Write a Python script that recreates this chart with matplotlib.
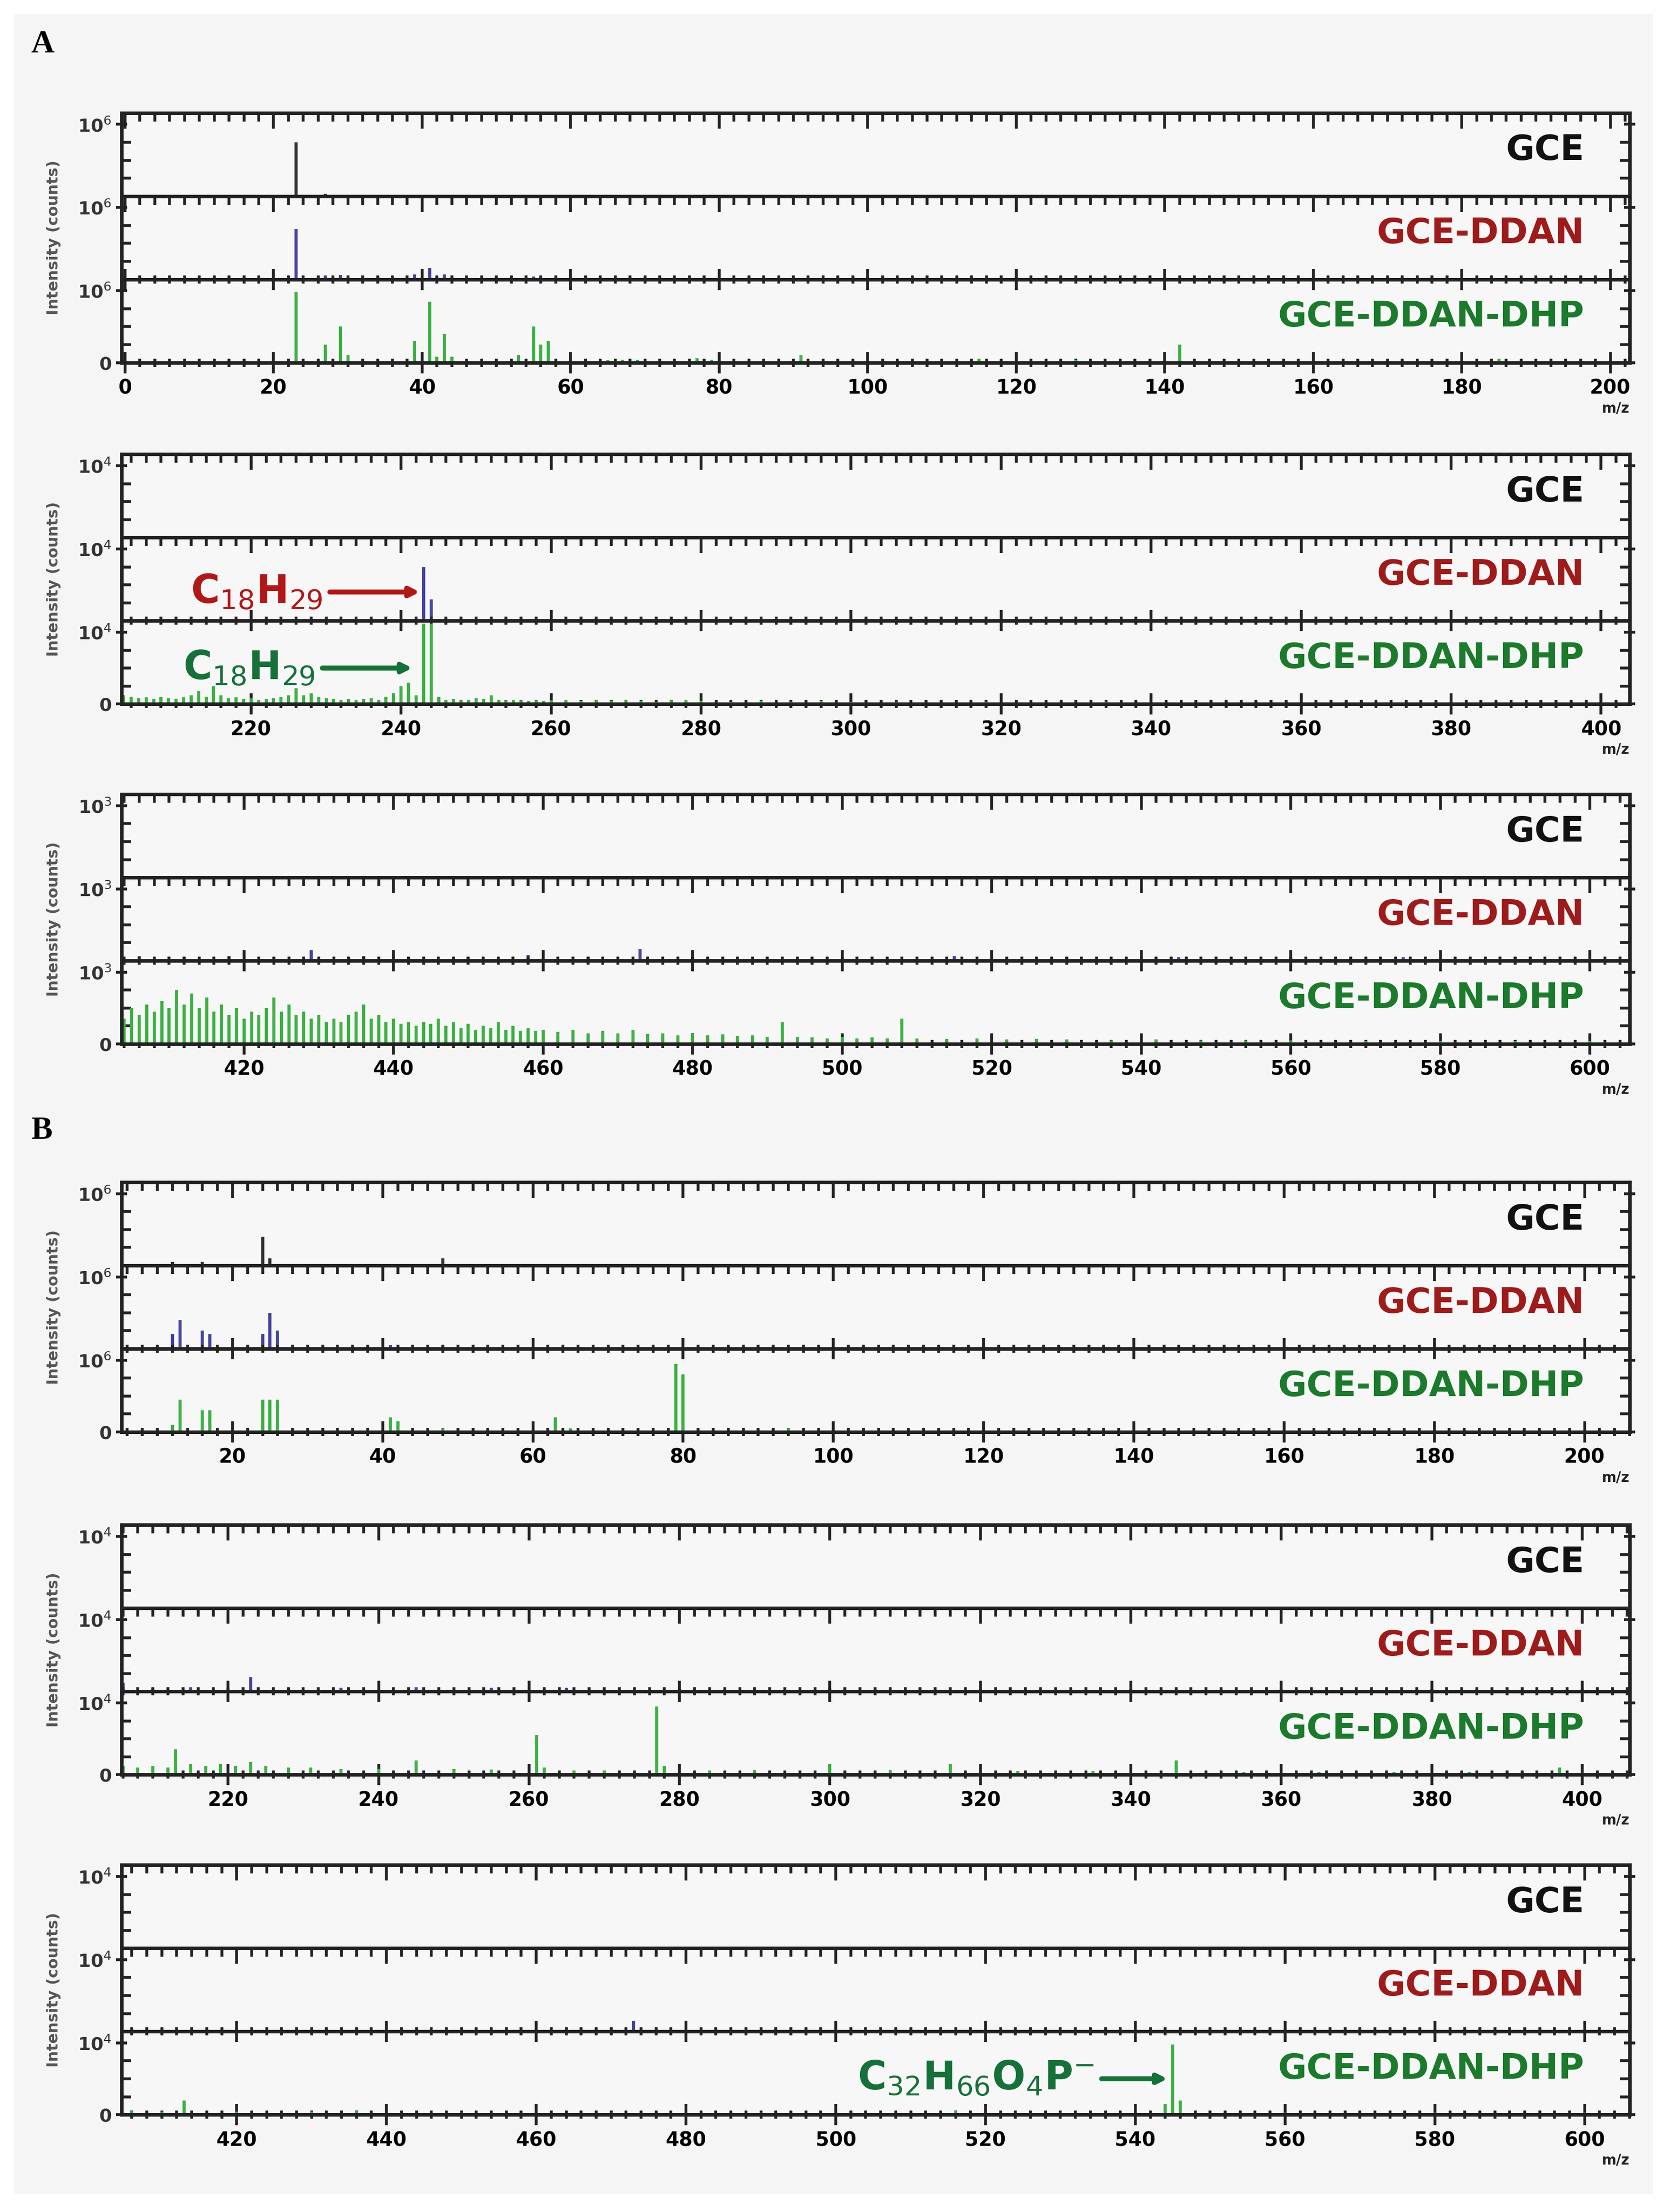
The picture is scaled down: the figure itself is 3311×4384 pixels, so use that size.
import matplotlib
matplotlib.use("Agg")
import matplotlib.pyplot as plt
import numpy as np
from matplotlib.patches import Rectangle

W, H = 1184, 1568  # reference layout units

# ---------------- data ----------------
labels = ["GCE", "GCE-DDAN", "GCE-DDAN-DHP"]
label_colors = ["#111111", "#9e1b1b", "#1c7a2c"]
line_colors = ["#333333", "#4444a0", "#3cb043"]
scale_labels = ["10$^6$", "10$^4$", "10$^3$", "10$^6$", "10$^4$", "10$^4$"]

# A1 (m/z 0-200)
A1_gce_mz = [23, 27]
A1_gce_I = [0.75, 0.03]
A1_ddan_mz = [23, 27, 29, 39, 41, 43, 55]
A1_ddan_I = [0.70, 0.05, 0.06, 0.07, 0.16, 0.07, 0.04]
A1_dhp_mz = [23, 27, 29, 30, 39, 41, 42, 43, 44, 53, 55, 56, 57, 65, 67, 69, 77, 79, 91, 115, 128, 142, 185]
A1_dhp_I = [0.98, 0.25, 0.50, 0.10, 0.30, 0.85, 0.08, 0.40, 0.08, 0.10, 0.50, 0.25, 0.30, 0.03, 0.04, 0.04, 0.06, 0.04, 0.10, 0.05, 0.04, 0.25, 0.05]

# A2 (m/z 200-400)
A2_gce_mz = [250, 300, 350]
A2_gce_I = [0.01, 0.01, 0.01]
A2_ddan_mz = [243, 244]
A2_ddan_I = [0.75, 0.30]
A2_dhp_mz = [203, 204, 205, 206, 207, 208, 209, 210, 211, 212, 213, 214, 215, 216, 217, 218, 219, 220, 221, 222,
             223, 224, 225, 226, 227, 228, 229, 230, 231, 232, 233, 234, 235, 236, 237, 238, 239, 240, 241, 242,
             243, 244, 245, 246, 247, 248, 249, 250, 251, 252, 253, 254, 255, 256, 257, 258, 259, 260, 262, 264,
             266, 268, 270, 272, 274, 276, 278, 280, 284, 288, 292, 296, 300, 306, 312, 318, 326, 334, 342, 350]
A2_dhp_I = [0.12, 0.10, 0.08, 0.09, 0.07, 0.10, 0.08, 0.07, 0.09, 0.12, 0.18, 0.10, 0.25, 0.12, 0.08, 0.09, 0.07, 0.08, 0.06, 0.07,
            0.08, 0.10, 0.12, 0.22, 0.12, 0.15, 0.10, 0.08, 0.07, 0.06, 0.07, 0.06, 0.07, 0.08, 0.06, 0.10, 0.15, 0.25, 0.30, 0.12,
            1.12, 1.12, 0.10, 0.06, 0.07, 0.05, 0.06, 0.08, 0.07, 0.12, 0.06, 0.05, 0.06, 0.05, 0.04, 0.05, 0.04, 0.05, 0.06, 0.04,
            0.05, 0.04, 0.05, 0.04, 0.03, 0.05, 0.06, 0.04, 0.03, 0.04, 0.03, 0.04, 0.03, 0.03, 0.02, 0.03, 0.02, 0.03, 0.02, 0.02]

# A3 (m/z 400-600)
A3_gce_mz = [450, 500, 550]
A3_gce_I = [0.01, 0.01, 0.01]
A3_ddan_mz = [406, 412, 418, 424, 429, 436, 442, 450, 458, 466, 473, 480, 490, 500, 515, 530, 545, 560, 575, 590]
A3_ddan_I = [0.06, 0.05, 0.06, 0.05, 0.15, 0.06, 0.05, 0.05, 0.08, 0.05, 0.16, 0.05, 0.05, 0.05, 0.06, 0.05, 0.05, 0.05, 0.05, 0.05]
A3_dhp_mz = [404, 405, 406, 407, 408, 409, 410, 411, 412, 413, 414, 415, 416, 417, 418, 419, 420, 421, 422, 423,
             424, 425, 426, 427, 428, 429, 430, 431, 432, 433, 434, 435, 436, 437, 438, 439, 440, 441, 442, 443,
             444, 445, 446, 447, 448, 449, 450, 451, 452, 453, 454, 455, 456, 457, 458, 459, 460, 462, 464, 466,
             468, 470, 472, 474, 476, 478, 480, 482, 484, 486, 488, 490, 492, 494, 496, 498, 500, 502, 504, 506,
             508, 510, 514, 518, 522, 526, 530, 536, 542, 548, 554, 560, 570, 580, 590, 600]
A3_dhp_I = [0.35, 0.50, 0.40, 0.55, 0.45, 0.60, 0.50, 0.75, 0.55, 0.70, 0.50, 0.65, 0.45, 0.55, 0.40, 0.50, 0.35, 0.45, 0.40, 0.50,
            0.65, 0.45, 0.55, 0.40, 0.45, 0.35, 0.40, 0.30, 0.35, 0.30, 0.40, 0.45, 0.55, 0.35, 0.40, 0.30, 0.35, 0.28, 0.30, 0.25,
            0.30, 0.28, 0.35, 0.25, 0.30, 0.22, 0.28, 0.20, 0.25, 0.22, 0.30, 0.20, 0.25, 0.18, 0.22, 0.18, 0.20, 0.17, 0.20, 0.15,
            0.18, 0.15, 0.20, 0.14, 0.15, 0.12, 0.14, 0.12, 0.13, 0.11, 0.12, 0.10, 0.30, 0.10, 0.09, 0.08, 0.10, 0.08, 0.09, 0.08,
            0.35, 0.08, 0.07, 0.08, 0.06, 0.07, 0.06, 0.05, 0.06, 0.05, 0.05, 0.05, 0.04, 0.04, 0.04, 0.04]

# B1 (m/z 5-205)
B1_gce_mz = [12, 16, 24, 25, 48]
B1_gce_I = [0.05, 0.05, 0.40, 0.10, 0.10]
B1_ddan_mz = [12, 13, 16, 17, 24, 25, 26, 41, 48]
B1_ddan_I = [0.20, 0.40, 0.25, 0.20, 0.20, 0.50, 0.25, 0.05, 0.05]
B1_dhp_mz = [12, 13, 16, 17, 24, 25, 26, 41, 42, 48, 63, 65, 79, 80, 94]
B1_dhp_I = [0.10, 0.45, 0.30, 0.30, 0.45, 0.45, 0.45, 0.20, 0.15, 0.05, 0.20, 0.05, 0.95, 0.80, 0.05]

# B2 (m/z 205-405)
B2_gce_mz = [250, 300, 350]
B2_gce_I = [0.01, 0.01, 0.01]
B2_ddan_mz = [206, 210, 215, 220, 223, 228, 235, 245, 255, 265, 280, 300, 320, 340, 360, 380, 400]
B2_ddan_I = [0.12, 0.05, 0.06, 0.05, 0.20, 0.05, 0.05, 0.06, 0.05, 0.05, 0.04, 0.05, 0.04, 0.04, 0.04, 0.04, 0.04]
B2_dhp_mz = [206, 208, 210, 212, 213, 215, 217, 219, 221, 223, 225, 228, 231, 235, 240, 245, 250, 255, 261, 262,
             266, 270, 277, 278, 284, 290, 300, 308, 316, 325, 335, 346, 355, 365, 375, 385, 397]
B2_dhp_I = [0.12, 0.10, 0.12, 0.10, 0.35, 0.15, 0.12, 0.15, 0.12, 0.18, 0.12, 0.10, 0.10, 0.08, 0.08, 0.20, 0.08, 0.07, 0.55, 0.10,
            0.06, 0.06, 0.95, 0.12, 0.06, 0.05, 0.15, 0.05, 0.15, 0.05, 0.05, 0.20, 0.04, 0.04, 0.04, 0.04, 0.10]

# B3 (m/z 405-605)
B3_gce_mz = [450, 500, 550]
B3_gce_I = [0.01, 0.01, 0.01]
B3_ddan_mz = [473]
B3_ddan_I = [0.15]
B3_dhp_mz = [406, 410, 413, 420, 430, 436, 450, 470, 490, 516, 530, 544, 545, 546, 560, 580, 600]
B3_dhp_I = [0.05, 0.04, 0.20, 0.04, 0.04, 0.05, 0.03, 0.03, 0.03, 0.05, 0.03, 0.15, 0.98, 0.20, 0.03, 0.03, 0.03]

groups = [
    dict(top=80, xlim=(-0.5, 202.6), major=np.arange(0, 201, 20), data=[(A1_gce_mz, A1_gce_I), (A1_ddan_mz, A1_ddan_I), (A1_dhp_mz, A1_dhp_I)]),
    dict(top=322, xlim=(202.7, 403.8), major=np.arange(220, 401, 20), data=[(A2_gce_mz, A2_gce_I), (A2_ddan_mz, A2_ddan_I), (A2_dhp_mz, A2_dhp_I)]),
    dict(top=563, xlim=(403.6, 605.3), major=np.arange(420, 601, 20), data=[(A3_gce_mz, A3_gce_I), (A3_ddan_mz, A3_ddan_I), (A3_dhp_mz, A3_dhp_I)]),
    dict(top=838, xlim=(5.2, 206.0), major=np.arange(20, 201, 20), data=[(B1_gce_mz, B1_gce_I), (B1_ddan_mz, B1_ddan_I), (B1_dhp_mz, B1_dhp_I)]),
    dict(top=1081, xlim=(205.8, 406.3), major=np.arange(220, 401, 20), data=[(B2_gce_mz, B2_gce_I), (B2_ddan_mz, B2_ddan_I), (B2_dhp_mz, B2_dhp_I)]),
    dict(top=1322, xlim=(404.6, 606.0), major=np.arange(420, 601, 20), data=[(B3_gce_mz, B3_gce_I), (B3_ddan_mz, B3_ddan_I), (B3_dhp_mz, B3_dhp_I)]),
]

fig = plt.figure(figsize=(33.12, 43.84), dpi=100)
fig.patch.set_facecolor("white")
fig.patches.append(Rectangle((10 / W, 1 - 1555 / H), 1162 / W, 1545 / H, transform=fig.transFigure,
                             facecolor="#f5f5f5", edgecolor="none", zorder=-10))

fig.text(22 / W, 1 - 32 / H, "A", fontsize=46, fontweight="bold", family="Liberation Serif", va="center")
fig.text(22 / W, 1 - 802 / H, "B", fontsize=46, fontweight="bold", family="Liberation Serif", va="center")

PH = 59
L, R = 86, 1155
YMAX = 1.16
axes_all = []
for gi, g in enumerate(groups):
    for k in range(3):
        y0 = g["top"] + k * PH
        ax = fig.add_axes([L / W, 1 - (y0 + PH) / H, (R - L) / W, PH / H])
        ax.set_facecolor("#f7f7f7")
        mz, I = g["data"][k]
        ax.vlines(mz, 0, I, color=line_colors[k], lw=4.5)
        for s in ax.spines.values():
            s.set_linewidth(5)
            s.set_color("#222222")
        ax.set_xticks(g["major"])
        ax.set_xticks(np.arange(g["major"][0] - 20, g["major"][-1] + 21, 2), minor=True)
        ax.set_xlim(*g["xlim"])
        ax.set_ylim(0, YMAX)
        ax.tick_params(axis="x", which="both", top=True, bottom=(k == 2), direction="in",
                       labelbottom=(k == 2), width=4, color="#222222")
        ax.tick_params(axis="x", which="major", length=22)
        ax.tick_params(axis="x", which="minor", length=12)
        if k == 2:
            ax.tick_params(axis="x", which="both", bottom=True, direction="inout")
            ax.tick_params(axis="x", which="major", length=30, labelsize=28, pad=8)
            for t in ax.get_xticklabels():
                t.set_fontweight("bold")
            ax.text(1.0, -0.55, "m/z", transform=ax.transAxes, ha="right", va="center",
                    fontsize=20, fontweight="bold", color="#222222")
        if k == 2:
            ax.set_yticks([0.0, 1.0])
            ax.set_yticklabels(["0", scale_labels[gi]])
        else:
            ax.set_yticks([1.0])
            ax.set_yticklabels([scale_labels[gi]])
        ax.set_yticks([0.25, 0.5, 0.75], minor=True)
        ax.set_ylim(0, YMAX)
        ax.tick_params(axis="y", which="minor", left=True, right=True, direction="in", width=4,
                       length=14, color="#222222")
        ax.tick_params(axis="y", which="major", left=True, right=True, labelleft=True, labelsize=26,
                       pad=6, direction="inout", length=16, width=4, color="#222222")
        for t in ax.get_yticklabels():
            t.set_fontweight("bold")
            t.set_color("#333333")
        ax.text(0.97, 0.55, labels[k], transform=ax.transAxes, ha="right", va="center",
                fontsize=50, fontweight="bold", color=label_colors[k])
        axes_all.append(ax)
    yc = g["top"] + 1.5 * PH
    fig.text(38 / W, 1 - yc / H, "Intensity (counts)", rotation=90, ha="center", va="center",
             fontsize=22, fontweight="bold", color="#555555")


def formula_arrow(ax, text, x_text_right, x_tail, x_head, y, color):
    ax.text(x_text_right, y, text, ha="right", va="center", fontsize=56, fontweight="bold", color=color)
    ax.annotate("", xy=(x_head, y), xytext=(x_tail, y),
                arrowprops=dict(arrowstyle="-|>,head_width=0.55,head_length=1.1", color=color, lw=7,
                                shrinkA=0, shrinkB=0))


formula_arrow(axes_all[4], "C$_{18}$H$_{29}$", 229.5, 230.5, 242.5, 0.4, "#b01818")
formula_arrow(axes_all[5], "C$_{18}$H$_{29}$", 228.5, 229.5, 241.5, 0.5, "#16703a")
formula_arrow(axes_all[17], "C$_{32}$H$_{66}$O$_4$P$^{-}$", 534.5, 535.5, 544.3, 0.5, "#16703a")

fig.savefig("out.png", dpi=100, facecolor=fig.get_facecolor())
